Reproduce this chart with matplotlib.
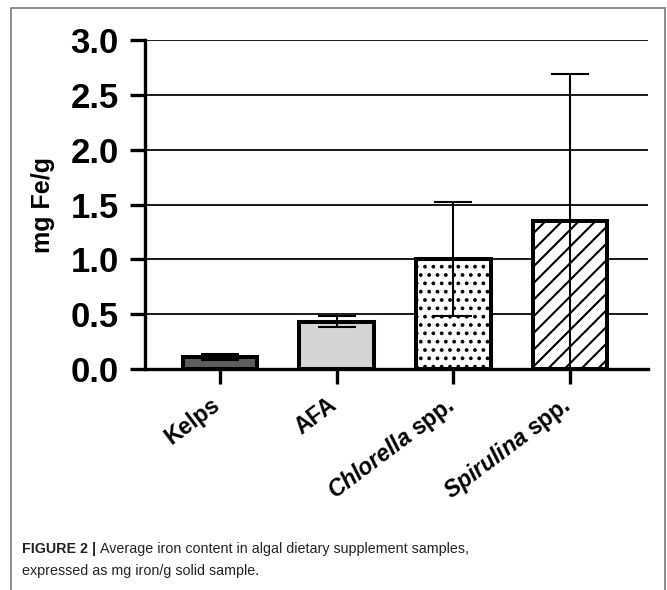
import matplotlib
matplotlib.use("Agg")
import matplotlib.pyplot as plt
from matplotlib.patches import Rectangle
from matplotlib.transforms import ScaledTranslation

plt.rcParams['font.family'] = ['Liberation Sans', 'DejaVu Sans']
plt.rcParams['mathtext.fontset'] = 'custom'
plt.rcParams['mathtext.bf'] = 'Liberation Sans:bold'
plt.rcParams['mathtext.bfit'] = 'Liberation Sans:italic:bold'
plt.rcParams['hatch.linewidth'] = 1.5

# iron content per supplement type (mean and SD, mg Fe/g)
samples = ['Kelps', 'AFA', r'$\mathbfit{Chlorella}$ spp.', r'$\mathbfit{Spirulina}$ spp.']
means = [0.11, 0.43, 1.00, 1.35]
sds = [0.03, 0.05, 0.52, 1.34]
fills = ['#5e5e5e', '#d4d4d4', 'white', 'white']
hatches = ['', '', '..', '//']
yticks = [0.0, 0.5, 1.0, 1.5, 2.0, 2.5, 3.0]

fig = plt.figure(figsize=(6.67, 5.9), dpi=100)
ax = fig.add_axes([0.2174, 0.3746, 0.7541, 0.5574])

x = range(len(samples))
ax.bar(x, means, width=0.64, color=fills, edgecolor='black', linewidth=2.9,
       hatch=hatches, zorder=2)
ax.errorbar(x, means, yerr=sds, fmt='none', ecolor='black', elinewidth=1.5,
            capsize=13.5, capthick=1.5, zorder=3)

ax.set_xlim(-0.643, 3.67)
ax.set_ylim(0, 3.0)
ax.set_yticks(yticks)
ax.set_yticklabels([f'{v:.1f}' for v in yticks], fontsize=25, fontweight='bold')
ax.set_xticks(list(x))
ax.set_xticklabels(samples, fontsize=16.5, fontweight='bold', rotation=37,
                   ha='right', va='top', rotation_mode='anchor')
ax.set_ylabel('mg Fe/g', fontsize=18, fontweight='bold', labelpad=11)

ax.yaxis.grid(True, color='#1a1a1a', linewidth=1.4, zorder=0)
ax.set_axisbelow(True)
for side in ['top', 'right']:
    ax.spines[side].set_visible(False)
for side in ['left', 'bottom']:
    ax.spines[side].set_linewidth(2.4)
ax.tick_params(axis='both', length=11, width=2.4)
ax.tick_params(axis='y', pad=8)
ax.tick_params(axis='x', pad=6)

# pull the slanted names back so their ends sit under the ticks
shift = ScaledTranslation(-7 / 72, 0, fig.dpi_scale_trans)
for lbl in ax.get_xticklabels():
    lbl.set_transform(lbl.get_transform() + shift)

# outer panel frame
fig.patches.append(Rectangle((11 / 667, -0.02), 654 / 667, 1 - 8 / 590 + 0.02,
                             transform=fig.transFigure, fill=False,
                             edgecolor='#7a7a7a', linewidth=1.2))

cap = dict(fontsize=10.3, color='#222222')
t1 = fig.text(22 / 667, 1 - 553 / 590, 'FIGURE 2 |', fontweight='bold', **cap)
fig.canvas.draw()
bb = t1.get_window_extent()
fig.text((bb.x1 + 4) / 667, 1 - 553 / 590,
         'Average iron content in algal dietary supplement samples,', **cap)
fig.text(22 / 667, 1 - 575 / 590, 'expressed as mg iron/g solid sample.', **cap)

fig.savefig('out.png', dpi=100)
